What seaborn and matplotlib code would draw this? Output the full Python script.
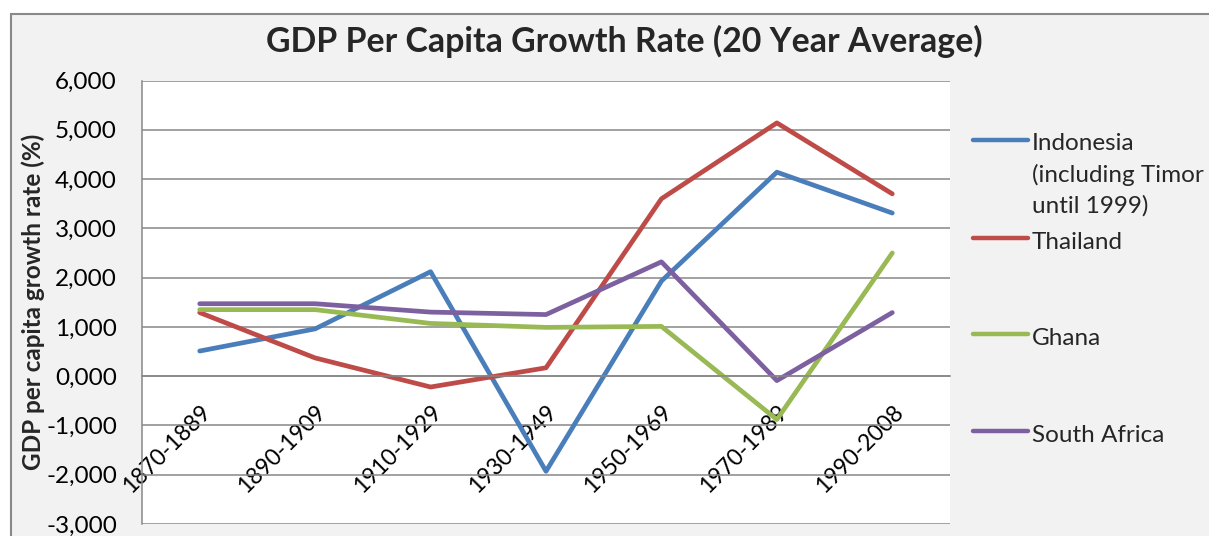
import matplotlib
matplotlib.use("Agg")
import matplotlib.pyplot as plt
from matplotlib.patches import Rectangle
from matplotlib.legend_handler import HandlerLine2D
from matplotlib.ticker import FuncFormatter, FixedLocator
import seaborn as sns
import pandas as pd

# ---- data -------------------------------------------------------------
periods = ["1870-1889", "1890-1909", "1910-1929", "1930-1949",
           "1950-1969", "1970-1989", "1990-2008"]
indonesia = [0.51, 0.96, 2.12, -1.93, 1.93, 4.14, 3.31]
thailand = [1.29, 0.37, -0.22, 0.17, 3.60, 5.14, 3.70]
ghana = [1.35, 1.35, 1.07, 0.99, 1.01, -0.88, 2.50]
south_africa = [1.47, 1.47, 1.30, 1.25, 2.32, -0.09, 1.29]
countries = ["Indonesia\n(including Timor\nuntil 1999)", "Thailand",
             "Ghana", "South Africa"]
colors = ["#4A7EBB", "#BE4B48", "#98B954", "#7D60A0"]
y_ticks = [-3, -2, -1, 0, 1, 2, 3, 4, 5, 6]

series = [indonesia, thailand, ghana, south_africa]
df = pd.DataFrame({
    "period": periods * len(countries),
    "value": [v for s in series for v in s],
    "country": [c for c in countries for _ in periods],
})

# ---- style --------------------------------------------------------------
sns.set_theme(style="white")
plt.rcParams["font.family"] = ["Lato", "DejaVu Sans"]

W, H = 1209, 536
GRID = "#878787"
fig = plt.figure(figsize=(W / 100, H / 100), dpi=100)
fig.patch.set_facecolor("white")

# grey chart area with its frame
fig.add_artist(Rectangle((10.7 / W, -0.2), 1.2, 1.2 - 14 / H,
                         transform=fig.transFigure, facecolor="#F2F2F2",
                         edgecolor="#898989", linewidth=1.5, zorder=-5))

ax = fig.add_axes([142 / W, 1 - 524 / H, 808 / W, 443.5 / H])
ax.set_facecolor("white")

sns.lineplot(data=df, x="period", y="value", hue="country",
             hue_order=countries, palette=colors, linewidth=3.4,
             sort=False, ax=ax, legend=True)

ax.set_xlim(-0.5, len(periods) - 0.5)
ax.set_ylim(y_ticks[0], y_ticks[-1])
ax.yaxis.set_major_locator(FixedLocator(y_ticks))
ax.yaxis.set_major_formatter(
    FuncFormatter(lambda v, _: f"{v:.3f}".replace(".", ",")))
ax.grid(axis="y", color=GRID, linewidth=1.1)
ax.grid(axis="x", visible=False)
ax.set_axisbelow(True)

for side in ("top", "right"):
    ax.spines[side].set_visible(False)
ax.spines["left"].set_color(GRID)
ax.spines["left"].set_linewidth(1.1)
ax.spines["bottom"].set_position(("data", 0))
ax.spines["bottom"].set_color(GRID)
ax.spines["bottom"].set_linewidth(1.1)

ax.tick_params(axis="y", length=0, pad=18, labelsize=17.5,
               labelcolor="black")
ax.tick_params(axis="x", length=0, pad=18, labelsize=16.5,
               labelcolor="black")
plt.setp(ax.get_xticklabels(), rotation=45, ha="right",
         rotation_mode="anchor")

ax.set_xlabel("")
ax.set_ylabel("GDP per capita growth rate (%)", fontsize=17.5,
              fontweight="bold", va="center")
ax.yaxis.set_label_coords(-0.135, 0.5)

fig.text(624.5 / W, 1 - 52.3 / H,
         "GDP Per Capita Growth Rate (20 Year Average)",
         ha="center", va="baseline", fontsize=24.4, fontweight="bold")


# legend: each entry takes a three-line slot, key sits on the first line
class TopLineHandler(HandlerLine2D):
    def __init__(self, shift, **kw):
        super().__init__(**kw)
        self.shift = shift

    def create_artists(self, legend, orig_handle, xdescent, ydescent,
                       width, height, fontsize, trans):
        artists = super().create_artists(legend, orig_handle, xdescent,
                                         ydescent, width, height,
                                         fontsize, trans)
        for a in artists:
            if hasattr(a, "get_ydata"):
                a.set_ydata([y + self.shift for y in a.get_ydata()])
        return artists


handles, labels = ax.get_legend_handles_labels()
ax.get_legend().remove()
for h in handles:
    h.set_linewidth(3.2)
    h.set_solid_capstyle("round")
slot_labels = [lab + "\n" * (2 - lab.count("\n")) for lab in labels]
leg = fig.legend(handles, slot_labels, loc="upper left",
                 bbox_to_anchor=(973 / W, 1 - 132.5 / H),
                 frameon=False, fontsize=17.5, handlelength=2.26,
                 handletextpad=0.165, labelspacing=0.6, borderpad=0,
                 borderaxespad=0,
                 handler_map={h: TopLineHandler(25.2) for h in handles})
for t in leg.get_texts():
    t.set_linespacing(1.56)

fig.savefig("out.png", dpi=100)
